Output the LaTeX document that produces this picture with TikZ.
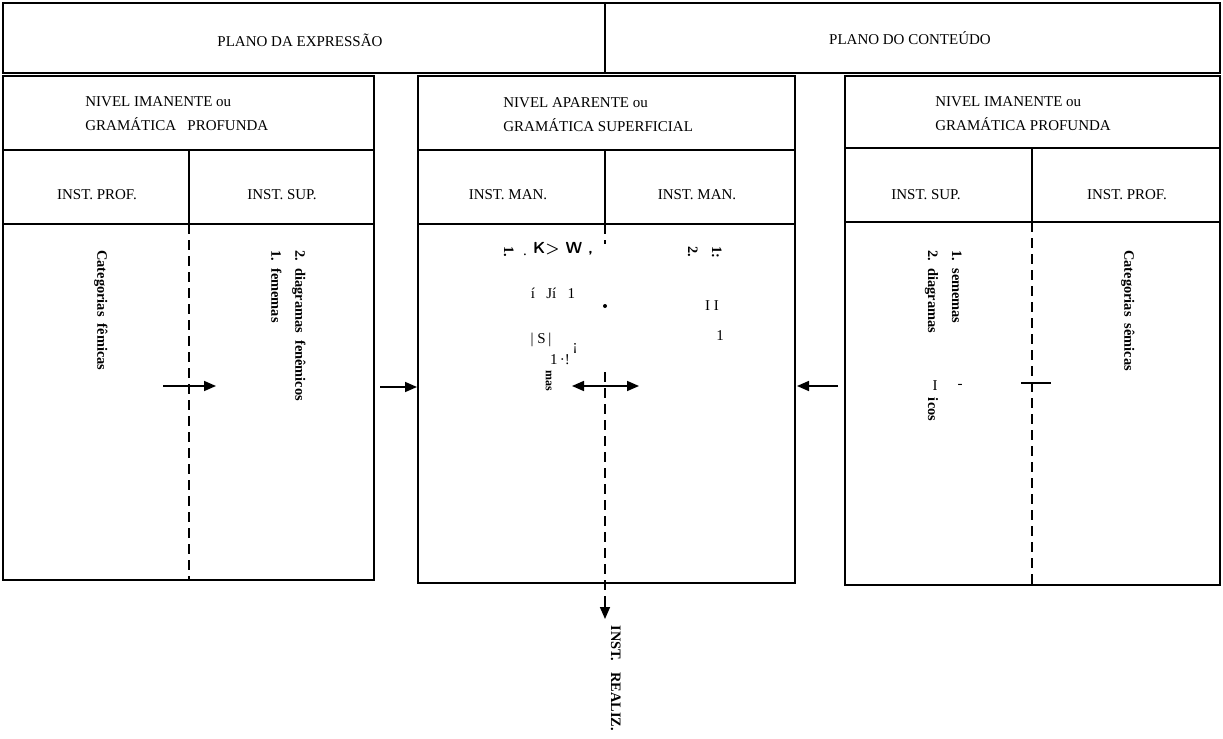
\documentclass[tikz,border=0pt]{standalone}
\usepackage{fontspec}
\setmainfont{Liberation Serif}
\usetikzlibrary{arrows.meta,positioning,calc}
\tikzset{
  frame/.style={line width=1pt},
  cutline/.style={line width=1pt, dash pattern=on 5pt off 3pt},
  hdr/.style={font=\fontsize{7.5}{12}\selectfont, align=left, inner sep=0pt},
  vtxt/.style={rotate=-90, anchor=north west, align=left, inner sep=0pt,
    font=\bfseries\fontsize{7.2}{12}\selectfont},
  junk/.style={inner sep=0pt, font=\fontsize{7.5}{9}\selectfont},
  pointer/.style={-{Triangle[length=6pt,width=5pt]}, line width=0.8pt},
  twoway/.style={{Triangle[length=6pt,width=5pt]}-{Triangle[length=6pt,width=5pt]}, line width=0.8pt},
}

\begin{document}
\begin{tikzpicture}[x=0.5pt,y=-0.5pt]
  \useasboundingbox (0,0) rectangle (1223,739);
  % top band: the two planes
  \draw[frame] (3,3) rectangle (1220,73);
  \draw[frame] (605,3) -- (605,73);
  \node[hdr] (expr) at (300,40) {PLANO DA EXPRESSÃO};
  \node[hdr] (cont) at (910,38) {PLANO DO CONTEÚDO};

  % left box
  \draw[frame] (3,76) rectangle (374,580);
  \draw[frame] (3,150) -- (374,150);
  \draw[frame] (3,224) -- (374,224);
  \draw[frame] (189,150) -- (189,224);
  \draw[cutline] (189,224) -- (189,580);
  \node[hdr, anchor=west] (nivL) at (85,114) {NIVEL IMANENTE ou\\GRAMÁTICA\ \ \ PROFUNDA};
  \node[hdr] (profL) at (97,195) {INST. PROF.};
  \node[hdr] (supL) at (282,195) {INST. SUP.};
  \node[vtxt] (catF) at (108,250) {Categorias\ \ fêmicas};
  \node[vtxt] (diagF) at (306,250) {2.\ \ diagramas\ \ fenêmicos\\1.\ \ fememas};

  % middle box
  \draw[frame] (418,76) rectangle (795,583);
  \draw[frame] (418,150) -- (795,150);
  \draw[frame] (418,224) -- (795,224);
  \draw[frame] (605,150) -- (605,224);
  \node[hdr, anchor=west] (nivM) at (503,115) {NIVEL APARENTE ou\\GRAMÁTICA SUPERFICIAL};
  \node[hdr] (manA) at (508,195) {INST. MAN.};
  \node[hdr] (manB) at (697,195) {INST. MAN.};
  \node[vtxt] (oneM) at (514,246) {1.};
  \node[junk] (dotA) at (525,255) {.};
  \node[junk, font=\bfseries\sffamily\fontsize{8}{9}\selectfont] (kw) at (563,249) {K> W ,};
  \node[junk] (jiA) at (553,293) {í\ \ \ Jí\ \ \ 1};
  \node[junk] (sA) at (541,340) {\textbar\ S\,\textbar};
  \node[junk] (sB) at (575,348) {¡};
  \node[junk] (sC) at (560,360) {1\,·!};
  \node[vtxt, font=\bfseries\fontsize{6}{7}\selectfont] (masM) at (552,370) {mas};
  \node[vtxt] (twoM) at (722,246) {1:\\2.};
  \node[junk] (iiM) at (712,306) {I I};
  \node[junk] (oneB) at (720,336) {1};

  % right box
  \draw[frame] (845,76) rectangle (1220,585);
  \draw[frame] (845,148) -- (1220,148);
  \draw[frame] (845,222) -- (1220,222);
  \draw[frame] (1032,148) -- (1032,222);
  \draw[cutline] (1032,222) -- (1032,585);
  \node[hdr, anchor=west] (nivR) at (935,114) {NIVEL IMANENTE ou\\GRAMÁTICA PROFUNDA};
  \node[hdr] (supR) at (926,195) {INST. SUP.};
  \node[hdr] (profR) at (1127,195) {INST. PROF.};
  \node[vtxt] (semR) at (962,250) {1.\ \ sememas\\2.\ \ diagramas\hspace{4.5em}icos};
  \node[junk] (barR) at (935,386) {I};
  \node[junk] (dashR) at (960,386) {-};
  \node[vtxt] (catS) at (1135,250) {Categorias\ \ sêmicas};

  % connectors
  \coordinate (fA) at (163,386);
  \coordinate (fB) at (216,386);
  \coordinate (gA) at (380,387);
  \coordinate (gB) at (417,387);
  \coordinate (hA) at (572,386);
  \coordinate (hB) at (639,386);
  \coordinate (kA) at (838,386);
  \coordinate (kB) at (797,386);
  \coordinate (tA) at (1021,383);
  \coordinate (tB) at (1051,383);
  \coordinate (dTop) at (605,224);
  \coordinate (dGap) at (605,244);
  \coordinate (dLow) at (605,372);
  \coordinate (dMid) at (605,598);
  \coordinate (dEnd) at (605,619);
  \draw[pointer] (fA) -- (fB);
  \draw[pointer] (gA) -- (gB);
  \draw[twoway] (hA) -- (hB);
  \draw[pointer] (kA) -- (kB);
  \draw[line width=0.8pt] (tA) -- (tB);
  \draw[cutline] (dTop) -- (dGap);
  \fill (605,306) circle (1pt);
  \draw[cutline] (dLow) -- (dMid);
  \draw[pointer] (dMid) -- (dEnd);
  \node[vtxt] (realiz) at (621,625) {INST.\ \ \ REALIZ.};
\end{tikzpicture}
\end{document}
